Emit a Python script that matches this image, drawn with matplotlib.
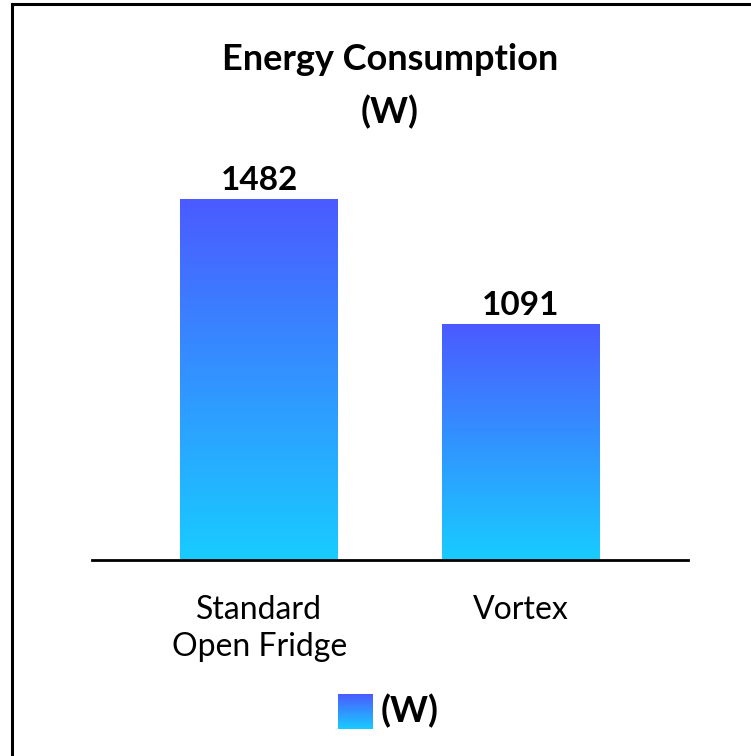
import numpy as np
import matplotlib
matplotlib.use("Agg")
import matplotlib.pyplot as plt
from matplotlib.colors import LinearSegmentedColormap

plt.rcParams['font.family'] = ['Lato', 'DejaVu Sans']

categories = ["Standard\nOpen Fridge", "Vortex"]
values = [1482, 1091]
series_name = "(W)"
title = "Energy Consumption\n(W)"

y_floor = 353
y_top = 1604

grad = LinearSegmentedColormap.from_list("bargrad", ["#18ccff", "#4b5bff"])
grad_img = np.linspace(0, 1, 256).reshape(-1, 1)

fig = plt.figure(figsize=(7.51, 7.56), dpi=100)

# border only on the top and left edges
fig.add_artist(plt.Line2D([12 / 751, 12 / 751], [0, 1 - 4 / 756], color="black", lw=2.2))
fig.add_artist(plt.Line2D([12 / 751, 1], [1 - 4 / 756, 1 - 4 / 756], color="black", lw=2.2))

ax = fig.add_axes([92 / 751, 196 / 756, 596 / 751, 400 / 756])
x = np.arange(len(categories))
w = 0.604
bars = ax.bar(x, np.array(values) - y_floor, bottom=y_floor, width=w, color="none", edgecolor="none")
for b, v in zip(bars, values):
    im = ax.imshow(grad_img, cmap=grad, origin="lower", aspect="auto",
                   extent=(b.get_x(), b.get_x() + w, y_floor, v), zorder=2)
    im.set_clip_path(b)
    ax.text(b.get_x() + w / 2, v + 12, f"{v}", ha="center", va="bottom",
            fontsize=24, fontweight="bold", color="black")

ax.set_xlim(-0.64, 1.64)
ax.set_ylim(y_floor, y_top)
ax.set_xticks(x)
ax.set_xticklabels(categories, fontsize=23, linespacing=1.32, va="top")
ax.tick_params(axis="x", length=0, pad=25)
ax.set_yticks([])
for s in ["top", "right", "left"]:
    ax.spines[s].set_visible(False)
ax.spines["bottom"].set_linewidth(2)

fig.text(390 / 751, 1 - 60 / 756, "Energy Consumption", ha="center", va="center",
         fontsize=26, fontweight="bold")
fig.text(390 / 751, 1 - 112 / 756, "(W)", ha="center", va="center",
         fontsize=26, fontweight="bold")

# legend: gradient swatch + label
lax = fig.add_axes([338 / 751, 1 - 729 / 756, 35 / 751, 35 / 756])
lax.imshow(grad_img, cmap=grad, origin="lower", aspect="auto")
lax.axis("off")
fig.text(381 / 751, 1 - 711 / 756, series_name, ha="left", va="center",
         fontsize=26, fontweight="bold")

fig.savefig("out.png", dpi=100, facecolor="white")
